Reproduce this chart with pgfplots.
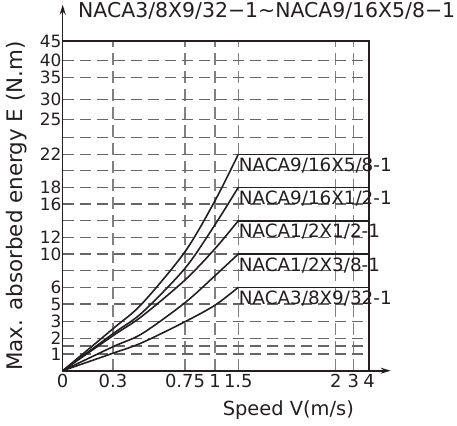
\documentclass[border=0pt]{standalone}
\usepackage{fontspec}
\setmainfont{DejaVu Sans}
\usepackage{pgfplots}
\pgfplotsset{compat=1.18}
\usetikzlibrary{arrows.meta}
\definecolor{ink}{HTML}{231F20}
\definecolor{gridgray}{HTML}{808080}

% axis units are positions on the (non-linear) printed scales
\begin{document}
\begin{tikzpicture}[x=1bp,y=1bp]
\useasboundingbox (-62.7,-54.3) rectangle (394.3,370.7);
\begin{axis}[
  at={(0,0)}, anchor=origin,
  x=1bp, y=1bp,
  xmin=0, xmax=306.3, ymin=0, ymax=329.7,
  clip=false,
  axis line style={line width=1.6bp, ink},
  xtick={0,50.3,122.3,152.3,175.6,273,290.6,306.3},
  xticklabels={0,0.3,0.75,1,1.5,2,3,4},
  ytick={0,16.7,24.7,32.4,49,66.7,83.4,100,116.7,133.4,150,166.7,183.4,200,216.4,233,251.4,271.4,293,310.5,329.7},
  yticklabels={,1,,2,3,5,6,,10,12,,16,18,,22,,25,30,35,40,45},
  major tick length=0pt,
  grid=major,
  x grid style={gridgray, line width=1.4bp, dash pattern=on 12bp off 6bp},
  y grid style={black!60, line width=1.3bp, dash pattern=on 11bp off 6bp},
  tick label style={font=\fontsize{18}{18}\selectfont, text=ink},
  yticklabel style={inner sep=1bp, font=\fontsize{17}{17}\selectfont},
  xlabel={Speed V(m/s)},
  xlabel style={at={(axis description cs:0.7366,-0.1192)}, anchor=center, font=\fontsize{19.5}{20}\selectfont, text=ink},
  ylabel={Max. absorbed energy E (N.m)},
  ylabel style={at={(axis description cs:-0.1492,0.4995)}, anchor=center, font=\fontsize{21.5}{22}\selectfont, text=ink},
  title={NACA3/8X9/32−1\textasciitilde NACA9/16X5/8−1},
  title style={at={(axis description cs:0.05,1.073)}, anchor=west, inner sep=0pt, font=\fontsize{20.5}{20}\selectfont, text=ink},
]
% curves up to 1.5 m/s
\addplot[ink, line width=1.6bp, smooth] coordinates {(0,0) (50.3,42) (79.3,67) (122.3,119) (152.3,170) (175.6,216.4)};
\addplot[ink, line width=1.6bp, smooth] coordinates {(0,0) (50.3,37) (79.3,58) (122.3,102.4) (152.3,146) (175.6,183.4)};
\addplot[ink, line width=1.6bp, smooth] coordinates {(0,0) (50.3,35) (79.3,54.5) (122.3,90.7) (152.3,122) (175.6,150)};
\addplot[ink, line width=1.6bp, smooth] coordinates {(0,0) (50.3,24) (79.3,37) (122.3,68) (152.3,95) (175.6,116.7)};
\addplot[ink, line width=1.6bp, smooth] coordinates {(0,0) (50.3,17.5) (79.3,28) (122.3,49) (152.3,65.5) (175.6,83.4)};
% flat part
\addplot[ink, line width=1.6bp] coordinates {(175.6,216.4) (306.3,216.4)};
\addplot[ink, line width=1.6bp] coordinates {(175.6,183.4) (306.3,183.4)};
\addplot[ink, line width=1.6bp] coordinates {(175.6,150) (306.3,150)};
\addplot[ink, line width=1.6bp] coordinates {(175.6,116.7) (306.3,116.7)};
\addplot[ink, line width=1.6bp] coordinates {(175.6,83.4) (306.3,83.4)};

\begin{scope}[every node/.style={anchor=base west, inner sep=0pt, text=ink, font=\fontsize{18.4}{18}\selectfont}]
\node at (axis cs:176,199.4) {NACA9/16X5/8-1};
\node at (axis cs:176,166.4) {NACA9/16X1/2-1};
\node at (axis cs:176,133) {NACA1/2X1/2-1};
\node at (axis cs:176,99.7) {NACA1/2X3/8-1};
\node at (axis cs:176,66.4) {NACA3/8X9/32-1};
\end{scope}

\draw[ink, line width=1.6bp, -{Stealth[length=10bp,width=6bp]}] (axis cs:0,329) -- (axis cs:0,366);
\draw[ink, line width=1.6bp, -{Stealth[length=10bp,width=6bp]}] (axis cs:306,0) -- (axis cs:328,0);
\end{axis}
\end{tikzpicture}
\end{document}
